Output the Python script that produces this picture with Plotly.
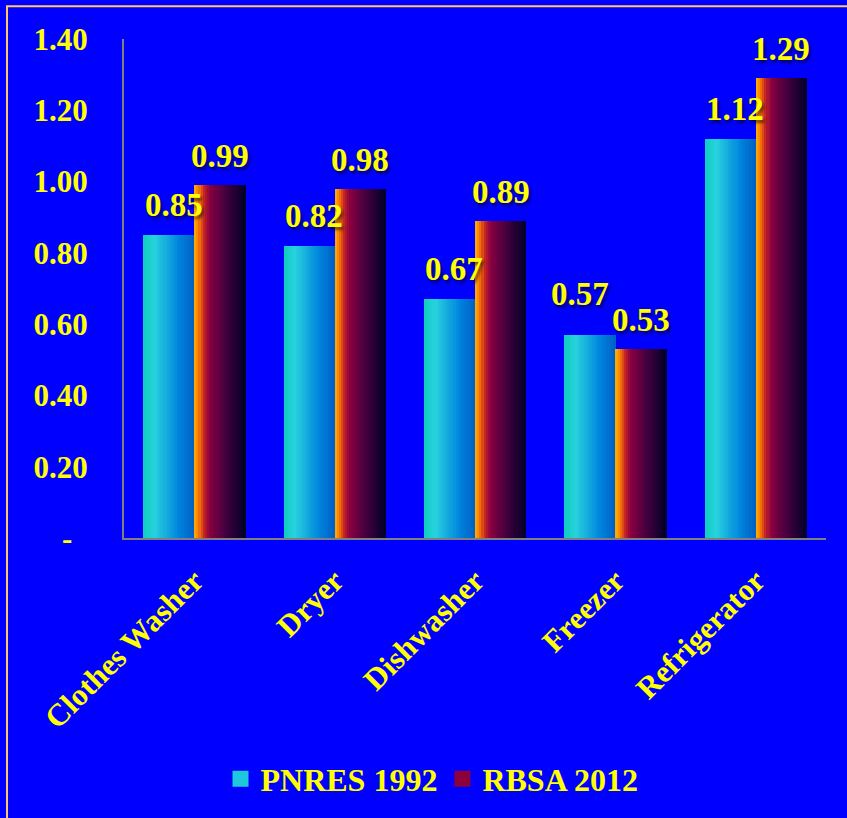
import plotly.graph_objects as go

categories = ["Clothes Washer", "Dryer", "Dishwasher", "Freezer", "Refrigerator"]
pnres_1992 = [0.85, 0.82, 0.67, 0.57, 1.12]
rbsa_2012 = [0.99, 0.98, 0.89, 0.53, 1.29]
series_names = ["PNRES 1992", "RBSA 2012"]
y_tick_vals = [0, 0.2, 0.4, 0.6, 0.8, 1.0, 1.2, 1.4]
y_tick_text = ["-\u00a0\u00a0", "0.20", "0.40", "0.60", "0.80", "1.00", "1.20", "1.40"]

# gradient stops (position, rgb) for each series - style only
grad_pnres = [(0.0, (14, 206, 190)), (0.22, (40, 210, 222)), (0.7, (0, 132, 222)), (1.0, (0, 96, 196))]
grad_rbsa = [(0.0, (255, 178, 0)), (0.08, (255, 130, 0)), (0.2, (190, 30, 40)), (0.3, (138, 0, 64)),
             (0.6, (70, 0, 64)), (1.0, (0, 0, 40))]


def color_at(stops, t):
    for (p0, c0), (p1, c1) in zip(stops[:-1], stops[1:]):
        if p0 <= t <= p1:
            f = (t - p0) / (p1 - p0) if p1 > p0 else 0
            c = [round(a + (b - a) * f) for a, b in zip(c0, c1)]
            return f"rgb({c[0]},{c[1]},{c[2]})"
    c = stops[-1][1]
    return f"rgb({c[0]},{c[1]},{c[2]})"


YELLOW = "#FFFF00"
FONT = "Liberation Serif, Times New Roman, serif"
BW = 0.3635   # width of one series bar in category units
K = 24        # slices per bar to draw the horizontal gradient
xs = list(range(len(categories)))

fig = go.Figure()
for s, (vals, stops, start) in enumerate([(pnres_1992, grad_pnres, -BW), (rbsa_2012, grad_rbsa, 0.0)]):
    for j in range(K):
        t = (j + 0.5) / K
        col = color_at(stops, t)
        fig.add_trace(go.Bar(
            x=xs, y=vals,
            width=BW / K * 1.15,
            offset=start + j * BW / K,
            marker=dict(color=col, line=dict(width=0)),
            name=series_names[s],
            legendgroup=series_names[s],
            showlegend=False,
            hoverinfo="skip",
        ))

# legend entries (square symbols)
for name, col in zip(series_names, ["rgb(30,200,220)", "rgb(140,0,60)"]):
    fig.add_trace(go.Scatter(
        x=[None], y=[None], mode="markers", name=name, legendgroup=name,
        marker=dict(symbol="square", size=17, color=col, line=dict(width=0)),
    ))

# data labels
label_font = dict(family=FONT, size=33, color=YELLOW, weight="bold",
                  shadow="2px 3px 3px rgba(0,0,0,0.55)")
for i, (a, b) in enumerate(zip(pnres_1992, rbsa_2012)):
    crowded = abs(a - b) < 0.1
    fig.add_annotation(
        x=i - BW / 2 + (-0.07 if crowded else 0.035), y=a, text=f"{a:.2f}",
        showarrow=False, yshift=41 if crowded else 30, yanchor="middle", xanchor="center",
        font=label_font)
    fig.add_annotation(
        x=i + BW / 2, y=b, text=f"{b:.2f}",
        showarrow=False, yshift=29, yanchor="middle", xanchor="center",
        font=label_font)

# outer frame (only top and left edges fall inside the picture)
fig.add_shape(type="rect", xref="paper", yref="paper",
              x0=(7 - 124) / 702, x1=(870 - 124) / 702,
              y0=(540 - 840) / 501, y1=(540 - 6) / 501,
              line=dict(color="#FFC864", width=2), fillcolor="rgba(0,0,0,0)", layer="below")

fig.update_layout(
    width=847, height=818,
    margin=dict(l=124, r=21, t=39, b=278),
    paper_bgcolor="#0000FF", plot_bgcolor="#0000FF",
    barmode="overlay", bargap=0,
    font=dict(family=FONT, color=YELLOW, size=31, weight="bold"),
    showlegend=True,
    legend=dict(orientation="h", x=(432 - 124) / 702, xanchor="center",
                y=(540 - 782) / 501, yanchor="middle",
                font=dict(family=FONT, size=32, color=YELLOW, weight="bold"),
                bgcolor="rgba(0,0,0,0)", itemsizing="trace"),
    xaxis=dict(range=[-0.5, 4.5], tickvals=xs, ticktext=categories, tickangle=-45,
               showline=True, linecolor="#808080", linewidth=2, showgrid=False,
               zeroline=False, ticks="", fixedrange=True, ticklabelstandoff=10,
               tickfont=dict(family=FONT, size=31, color=YELLOW, weight="bold")),
    yaxis=dict(range=[0, 1.4], tickvals=y_tick_vals, ticktext=y_tick_text,
               showline=True, linecolor="#808080", linewidth=2, showgrid=False,
               zeroline=False, ticks="", ticklabelstandoff=28, fixedrange=True,
               tickfont=dict(family=FONT, size=31, color=YELLOW, weight="bold")),
)

fig.write_html("out.html", config={"displayModeBar": False},
               post_script="document.body.style.margin='0';document.body.style.overflow='hidden';")
